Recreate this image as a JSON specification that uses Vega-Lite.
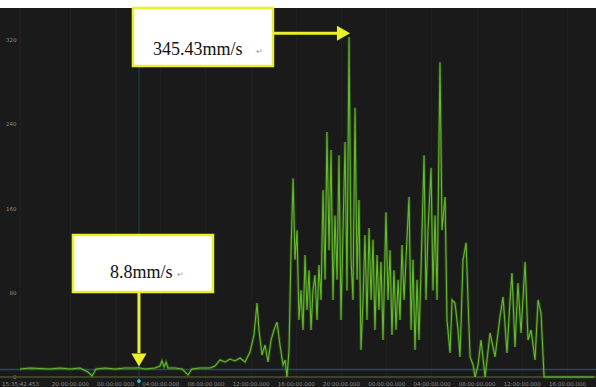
{
  "$schema": "https://vega.github.io/schema/vega-lite/v6.json",
  "width": 596,
  "height": 379,
  "autosize": "none",
  "padding": {"top": 8, "left": 0, "right": 0, "bottom": 0},
  "background": "white",
  "config": {
    "view": {"fill": "#1a1a1a", "stroke": null},
    "axis": {"title": null}
  },
  "datasets": {
    "series": [
      {"h":15.59,"v":7.6},{"h":16.48,"v":8.5},{"h":17.36,"v":8},{"h":18.25,"v":7.6},{"h":19.13,"v":8.5},
      {"h":20.02,"v":7.6},{"h":20.9,"v":8.5},{"h":21.61,"v":4.7},{"h":21.96,"v":1},{"h":22.32,"v":7.6},
      {"h":23.11,"v":8.5},{"h":24.0,"v":7.6},{"h":24.89,"v":8.5},{"h":25.77,"v":8.5},{"h":26.12,"v":8.8},
      {"h":26.66,"v":7.6},{"h":27.54,"v":8.5},{"h":27.98,"v":10.4},{"h":28.16,"v":15.2},{"h":28.34,"v":9.5},
      {"h":28.52,"v":14.2},{"h":28.69,"v":8.5},{"h":29.31,"v":8.5},{"h":29.93,"v":7.6},{"h":30.46,"v":1.9},
      {"h":30.81,"v":7.6},{"h":31.52,"v":8.5},{"h":32.41,"v":8.5},{"h":32.85,"v":10.4},{"h":33.29,"v":16.1},
      {"h":33.74,"v":14.2},{"h":34.18,"v":17},{"h":34.62,"v":15.2},{"h":35.06,"v":18},{"h":35.51,"v":14.2},
      {"h":35.95,"v":23.7},{"h":36.3,"v":39.8},{"h":36.57,"v":70},{"h":36.74,"v":44.5},{"h":37.01,"v":20.8},
      {"h":37.28,"v":30.3},{"h":37.54,"v":14.2},{"h":37.81,"v":35},{"h":38.07,"v":44.5},{"h":38.34,"v":52},
      {"h":38.6,"v":30.3},{"h":38.87,"v":11.4},{"h":39.05,"v":16.1},{"h":39.22,"v":0},{"h":39.4,"v":25.6},
      {"h":39.58,"v":120},{"h":39.76,"v":188},{"h":39.93,"v":111},{"h":40.11,"v":139},{"h":40.28,"v":54},
      {"h":40.46,"v":82},{"h":40.64,"v":44.5},{"h":40.82,"v":115.5},{"h":40.99,"v":63.4},{"h":41.17,"v":101},
      {"h":41.35,"v":44.5},{"h":41.52,"v":82},{"h":41.7,"v":96.6},{"h":41.88,"v":54},{"h":42.05,"v":106},
      {"h":42.23,"v":73},{"h":42.41,"v":177},{"h":42.59,"v":92},{"h":42.76,"v":232},{"h":42.94,"v":120},
      {"h":43.12,"v":215},{"h":43.29,"v":73},{"h":43.47,"v":153},{"h":43.65,"v":92},{"h":43.82,"v":210},
      {"h":44.0,"v":54},{"h":44.18,"v":139},{"h":44.36,"v":222.5},{"h":44.53,"v":82},{"h":44.71,"v":322},
      {"h":44.89,"v":111},{"h":45.06,"v":73},{"h":45.24,"v":255},{"h":45.42,"v":92},{"h":45.59,"v":167.6},
      {"h":45.77,"v":25.6},{"h":45.95,"v":73},{"h":46.12,"v":134.5},{"h":46.3,"v":54},{"h":46.48,"v":141},
      {"h":46.66,"v":73},{"h":46.83,"v":130},{"h":47.01,"v":44.5},{"h":47.19,"v":115.5},{"h":47.36,"v":63.4},
      {"h":47.54,"v":109},{"h":47.72,"v":35},{"h":47.98,"v":156},{"h":48.16,"v":73},{"h":48.34,"v":120},
      {"h":48.51,"v":39.8},{"h":48.69,"v":101},{"h":48.87,"v":44.5},{"h":49.05,"v":92},{"h":49.22,"v":54},
      {"h":49.4,"v":125},{"h":49.58,"v":73},{"h":49.75,"v":111},{"h":50.02,"v":170.5},{"h":50.2,"v":44.5},
      {"h":50.37,"v":111},{"h":50.55,"v":25.6},{"h":50.73,"v":92},{"h":50.9,"v":35},{"h":51.08,"v":101},
      {"h":51.35,"v":210},{"h":51.52,"v":73},{"h":51.7,"v":139},{"h":51.97,"v":198},{"h":52.14,"v":82},
      {"h":52.32,"v":153},{"h":52.5,"v":73},{"h":52.76,"v":298},{"h":52.94,"v":139},{"h":53.21,"v":170.5},
      {"h":53.38,"v":54},{"h":53.65,"v":22.7},{"h":53.83,"v":73},{"h":54.09,"v":70},{"h":54.36,"v":44.5},
      {"h":54.53,"v":19},{"h":54.8,"v":111},{"h":55.07,"v":127},{"h":55.24,"v":73},{"h":55.42,"v":19},
      {"h":55.69,"v":11.4},{"h":55.86,"v":0},{"h":56.13,"v":11.4},{"h":56.39,"v":35},{"h":56.75,"v":0},
      {"h":57.19,"v":41.7},{"h":57.63,"v":19},{"h":58.07,"v":56.8},{"h":58.34,"v":75.8},{"h":58.69,"v":22.7},
      {"h":58.96,"v":73},{"h":59.13,"v":98.5},{"h":59.4,"v":28.4},{"h":59.66,"v":89},{"h":59.93,"v":41.7},
      {"h":60.29,"v":109},{"h":60.55,"v":35},{"h":60.82,"v":44.5},{"h":61.17,"v":16.1},{"h":61.44,"v":73},
      {"h":61.7,"v":60.6},{"h":61.97,"v":0},{"h":66.4,"v":0}
    ],
    "boxes": [
      {"h1":25.59,"h2":37.98,"v1":294.5,"v2":349.4},
      {"h1":20.28,"h2":32.67,"v1":80.5,"v2":134.5}
    ],
    "arrows": [
      {"h1":37.98,"h2":43.7,"v1":325.5,"v2":325.5},
      {"h1":26.12,"h2":26.12,"v1":80.5,"v2":22.7}
    ],
    "labels": [
      {"h":27.36,"v":309.7,"text":"345.43mm/s"},
      {"h":23.56,"v":98.5,"text":"8.8mm/s"}
    ],
    "marks": [
      {"h":36.5,"v":307.5,"text":"↵"},
      {"h":29.5,"v":96.5,"text":"↵"}
    ]
  },
  "layer": [
    {
      "data": {"values": [{"v": 7}]},
      "mark": {"type": "rule", "color": "#34465c", "strokeWidth": 1.5},
      "encoding": {
        "y": {"field": "v", "type": "quantitative", "scale": {"domain": [-9.47, 349.4], "nice": false, "zero": false}}
      }
    },
    {
      "data": {"values": [{"v": 0}]},
      "mark": {"type": "rule", "color": "#4a5030", "strokeWidth": 1.5},
      "encoding": {
        "y": {"field": "v", "type": "quantitative", "scale": {"domain": [-9.47, 349.4], "nice": false, "zero": false}}
      }
    },
    {
      "data": {"values": [{"h": 26.12}]},
      "mark": {"type": "rule", "color": "#1d4545", "strokeWidth": 1},
      "encoding": {
        "x": {"field": "h", "type": "quantitative", "scale": {"domain": [13.823, 66.566], "nice": false, "zero": false}}
      }
    },
    {
      "data": {"name": "series"},
      "mark": {"type": "line", "color": "#4c9a22", "strokeWidth": 3, "opacity": 0.3},
      "encoding": {
        "x": {"field": "h", "type": "quantitative", "scale": {"domain": [13.823, 66.566], "nice": false, "zero": false}},
        "y": {"field": "v", "type": "quantitative", "scale": {"domain": [-9.47, 349.4], "nice": false, "zero": false}}
      }
    },
    {
      "data": {"name": "series"},
      "mark": {"type": "line", "color": "#66c02c", "strokeWidth": 1.1, "opacity": 0.95},
      "encoding": {
        "x": {
          "field": "h", "type": "quantitative",
          "scale": {"domain": [13.823, 66.566], "nice": false, "zero": false},
          "axis": {
            "values": [15.595, 20, 24, 28, 32, 36, 40, 44, 48, 52, 56, 60, 64],
            "labelExpr": "datum.value < 16 ? '15:35:42.453' : ((datum.value % 24) < 10 ? '0' : '') + (datum.value % 24) + ':00:00.000'",
            "labelFontSize": 5.5,
            "labelColor": "#8a8a8a",
            "labelFont": "DejaVu Sans",
            "labelPadding": -4,
            "labelBaseline": "middle",
            "labelOverlap": false,
            "ticks": false,
            "domain": false,
            "grid": true,
            "gridColor": "#202020",
            "gridWidth": 1
          }
        },
        "y": {
          "field": "v", "type": "quantitative",
          "scale": {"domain": [-9.47, 349.4], "nice": false, "zero": false},
          "axis": {
            "values": [0, 80, 160, 240, 320],
            "labelFontSize": 5.5,
            "labelColor": "#8a8a8a",
            "labelFont": "DejaVu Sans",
            "labelAlign": "right",
            "labelPadding": -16,
            "ticks": false,
            "domain": false,
            "grid": false
          }
        }
      }
    },
    {
      "data": {"values": [{"h": 26.12, "v": -3.8}]},
      "mark": {"type": "point", "filled": true, "color": "#4fb3c8", "size": 14, "opacity": 1},
      "encoding": {
        "x": {"field": "h", "type": "quantitative", "scale": {"domain": [13.823, 66.566], "nice": false, "zero": false}},
        "y": {"field": "v", "type": "quantitative", "scale": {"domain": [-9.47, 349.4], "nice": false, "zero": false}}
      }
    },
    {
      "data": {"name": "boxes"},
      "mark": {"type": "rect", "fill": "white", "stroke": "#eaf02a", "strokeWidth": 2.5},
      "encoding": {
        "x": {"field": "h1", "type": "quantitative", "scale": {"domain": [13.823, 66.566], "nice": false, "zero": false}},
        "x2": {"field": "h2"},
        "y": {"field": "v1", "type": "quantitative", "scale": {"domain": [-9.47, 349.4], "nice": false, "zero": false}},
        "y2": {"field": "v2"}
      }
    },
    {
      "data": {"name": "arrows"},
      "mark": {"type": "rule", "color": "#eaf02a", "strokeWidth": 3},
      "encoding": {
        "x": {"field": "h1", "type": "quantitative", "scale": {"domain": [13.823, 66.566], "nice": false, "zero": false}},
        "x2": {"field": "h2"},
        "y": {"field": "v1", "type": "quantitative", "scale": {"domain": [-9.47, 349.4], "nice": false, "zero": false}},
        "y2": {"field": "v2"}
      }
    },
    {
      "data": {"values": [{"h": 44.22, "v": 325.5}]},
      "mark": {"type": "point", "shape": "triangle-right", "filled": true, "color": "#eaf02a", "size": 230, "opacity": 1},
      "encoding": {
        "x": {"field": "h", "type": "quantitative", "scale": {"domain": [13.823, 66.566], "nice": false, "zero": false}},
        "y": {"field": "v", "type": "quantitative", "scale": {"domain": [-9.47, 349.4], "nice": false, "zero": false}}
      }
    },
    {
      "data": {"values": [{"h": 26.12, "v": 16.1}]},
      "mark": {"type": "point", "shape": "triangle-down", "filled": true, "color": "#eaf02a", "size": 230, "opacity": 1},
      "encoding": {
        "x": {"field": "h", "type": "quantitative", "scale": {"domain": [13.823, 66.566], "nice": false, "zero": false}},
        "y": {"field": "v", "type": "quantitative", "scale": {"domain": [-9.47, 349.4], "nice": false, "zero": false}}
      }
    },
    {
      "data": {"name": "labels"},
      "mark": {"type": "text", "font": "Liberation Serif", "fontSize": 18, "color": "#111111", "align": "left", "baseline": "middle"},
      "encoding": {
        "x": {"field": "h", "type": "quantitative", "scale": {"domain": [13.823, 66.566], "nice": false, "zero": false}},
        "y": {"field": "v", "type": "quantitative", "scale": {"domain": [-9.47, 349.4], "nice": false, "zero": false}},
        "text": {"field": "text"}
      }
    },
    {
      "data": {"name": "marks"},
      "mark": {"type": "text", "font": "DejaVu Sans", "fontSize": 8, "color": "#9a9a9a", "align": "left", "baseline": "middle"},
      "encoding": {
        "x": {"field": "h", "type": "quantitative", "scale": {"domain": [13.823, 66.566], "nice": false, "zero": false}},
        "y": {"field": "v", "type": "quantitative", "scale": {"domain": [-9.47, 349.4], "nice": false, "zero": false}},
        "text": {"field": "text"}
      }
    }
  ]
}
